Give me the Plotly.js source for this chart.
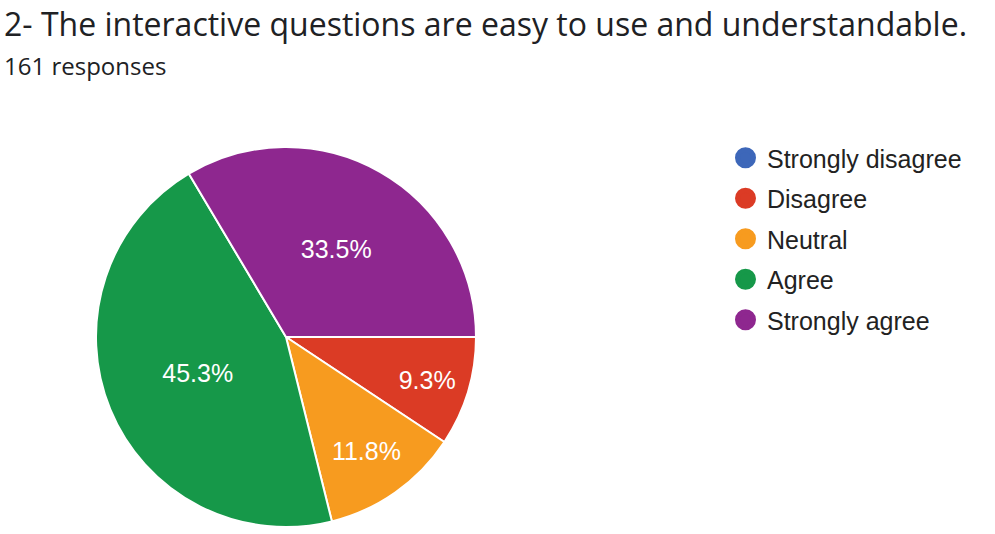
<!DOCTYPE html>
<html>
<head>
<meta charset="utf-8">
<script src="https://cdn.plot.ly/plotly-3.0.1.min.js"></script>
<style>
  html, body { margin: 0; padding: 0; background: #fff; }
  #chart { width: 995px; height: 534px; }
</style>
</head>
<body>
<div id="chart"></div>
<script>
// 回答データ（161件）
const categories = ["Strongly disagree", "Disagree", "Neutral", "Agree", "Strongly agree"];
const counts = [0, 15, 19, 73, 54];
const colors = ["#3d67b9", "#db3b25", "#f79b1f", "#169849", "#8e278f"];

const titleText = "2- The interactive questions are easy to use and understandable.";
const subtitleText = "161 responses";

// 円グラフ本体
const pie = {
  type: "pie",
  labels: categories,
  values: counts,
  sort: false,
  direction: "clockwise",
  rotation: 90,
  marker: { colors: colors, line: { color: "#ffffff", width: 2 } },
  texttemplate: "%{percent:.1%}",
  textposition: "inside",
  insidetextorientation: "horizontal",
  textfont: { family: "Liberation Sans, Arial, sans-serif", size: 25, color: "#ffffff" },
  domain: { x: [96 / 995, 476 / 995], y: [1 - 527 / 534, 1 - 147 / 534] },
  showlegend: false,
  hoverinfo: "label+percent"
};

// 凡例用（丸いマーカーにするためのダミー）
const legendTraces = categories.map((name, i) => ({
  type: "scatter",
  mode: "markers",
  x: [null],
  y: [null],
  name: name,
  legendgroup: "g" + i,
  marker: { color: colors[i], size: 16, symbol: "circle", line: { color: colors[i], width: 5 } },
  hoverinfo: "skip"
}));

const layout = {
  width: 995,
  height: 534,
  margin: { l: 0, r: 0, t: 0, b: 0 },
  paper_bgcolor: "#ffffff",
  plot_bgcolor: "#ffffff",
  xaxis: { visible: false },
  yaxis: { visible: false },
  showlegend: true,
  legend: {
    x: 724 / 995,
    y: 1 - 135 / 534,
    xanchor: "left",
    yanchor: "top",
    tracegroupgap: 5,
    itemwidth: 33,
    font: { family: "Liberation Sans, Arial, sans-serif", size: 25, color: "#222222" }
  },
  annotations: [
    {
      text: titleText,
      xref: "paper", yref: "paper",
      x: 2 / 995, y: 1,
      xanchor: "left", yanchor: "top",
      showarrow: false,
      font: { family: "Open Sans, sans-serif", size: 32, color: "#202124" }
    },
    {
      text: subtitleText,
      xref: "paper", yref: "paper",
      x: 2 / 995, y: 1 - 47 / 534,
      xanchor: "left", yanchor: "top",
      showarrow: false,
      font: { family: "Open Sans, sans-serif", size: 24, color: "#202124" }
    }
  ]
};

Plotly.newPlot("chart", [pie].concat(legendTraces), layout, { displayModeBar: false, staticPlot: true });
</script>
</body>
</html>
